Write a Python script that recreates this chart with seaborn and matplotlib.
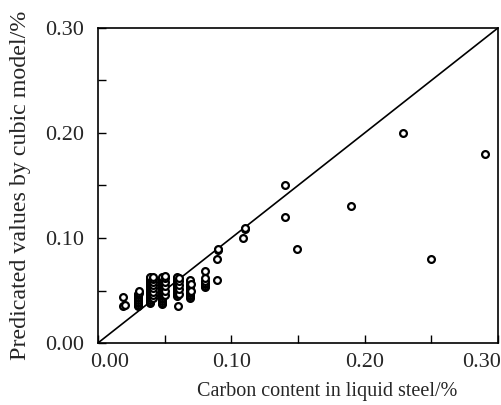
import matplotlib
matplotlib.use("Agg")
import matplotlib.pyplot as plt
import matplotlib.transforms as mtransforms
from matplotlib.ticker import MultipleLocator
import seaborn as sns
import pandas as pd

# Measured carbon content (x) and predicted values (y), in %
carbon_measured = [
    0.019, 0.019, 0.020,
    0.030, 0.030, 0.030, 0.030, 0.030, 0.030, 0.030, 0.030, 0.030, 0.031, 0.031,
    0.039, 0.039, 0.039, 0.039, 0.039, 0.039, 0.039, 0.039, 0.039, 0.039, 0.039, 0.039,
    0.039, 0.039, 0.039, 0.039, 0.039, 0.039,
    0.041, 0.041, 0.041, 0.041, 0.041, 0.041, 0.041, 0.041,
    0.048, 0.048, 0.048, 0.048, 0.048, 0.048, 0.048, 0.048, 0.048, 0.048, 0.048, 0.048,
    0.048, 0.048, 0.048, 0.048, 0.048, 0.048,
    0.050, 0.050, 0.050, 0.050, 0.050, 0.050,
    0.059, 0.059, 0.059, 0.059, 0.059, 0.059, 0.059, 0.059, 0.059, 0.059, 0.059, 0.059,
    0.059, 0.060,
    0.061, 0.061, 0.061, 0.061, 0.061,
    0.069, 0.069, 0.069, 0.069, 0.069, 0.069, 0.069, 0.069, 0.069, 0.069, 0.069, 0.069,
    0.070, 0.070,
    0.080, 0.080, 0.080, 0.080, 0.080, 0.080, 0.080,
    0.089, 0.089, 0.090, 0.090,
    0.109, 0.110, 0.110,
    0.140, 0.140,
    0.149,
    0.190,
    0.229,
    0.250,
    0.290,
]
carbon_predicted = [
    0.044, 0.035, 0.036,
    0.035, 0.0365, 0.038, 0.0395, 0.041, 0.0425, 0.044, 0.0455, 0.047, 0.048, 0.0495,
    0.038, 0.0395, 0.041, 0.0425, 0.044, 0.0455, 0.047, 0.0485, 0.050, 0.0515, 0.053, 0.0545,
    0.056, 0.0575, 0.059, 0.0605, 0.062, 0.063,
    0.043, 0.046, 0.049, 0.052, 0.055, 0.058, 0.061, 0.063,
    0.037, 0.0385, 0.040, 0.0415, 0.043, 0.0445, 0.046, 0.0475, 0.049, 0.0505, 0.052, 0.0535,
    0.055, 0.0565, 0.058, 0.0595, 0.061, 0.063,
    0.046, 0.050, 0.054, 0.058, 0.062, 0.064,
    0.045, 0.0465, 0.048, 0.0495, 0.051, 0.0525, 0.054, 0.0555, 0.057, 0.0585, 0.060, 0.0615,
    0.063, 0.035,
    0.047, 0.051, 0.055, 0.059, 0.062,
    0.043, 0.0445, 0.046, 0.0475, 0.049, 0.0505, 0.052, 0.0535, 0.055, 0.0565, 0.058, 0.060,
    0.050, 0.056,
    0.053, 0.0545, 0.056, 0.0575, 0.059, 0.062, 0.069,
    0.060, 0.080, 0.089, 0.090,
    0.100, 0.109, 0.110,
    0.150, 0.120,
    0.090,
    0.130,
    0.200,
    0.080,
    0.180,
]

x_ticks = [0.00, 0.10, 0.20, 0.30]
y_ticks = [0.00, 0.10, 0.20, 0.30]
x_label = "Carbon content in liquid steel/%"
y_label = "Predicated values by cubic model/%"

df = pd.DataFrame({"measured": carbon_measured, "predicted": carbon_predicted})

sns.set_style("ticks")
plt.rcParams["font.family"] = ["Liberation Serif", "DejaVu Serif"]

fig = plt.figure(figsize=(5.02, 4.05), dpi=100)
ax = fig.add_axes([0.195, 0.153, 0.797, 0.778])

sns.scatterplot(data=df, x="measured", y="predicted", ax=ax,
                marker="o", s=24, facecolor="white", edgecolor="black",
                linewidth=1.6, zorder=3)
ax.axline((0, 0), slope=1, color="black", linewidth=1.2, zorder=2)

ax.set_xlim(0, 0.30)
ax.set_ylim(0, 0.30)
ax.set_xticks(x_ticks)
ax.set_yticks(y_ticks)
ax.set_xticklabels([f"{v:.2f}" for v in x_ticks])
ax.set_yticklabels([f"{v:.2f}" for v in y_ticks])
ax.xaxis.set_minor_locator(MultipleLocator(0.05))
ax.yaxis.set_minor_locator(MultipleLocator(0.05))
ax.tick_params(which="both", direction="in", length=6, width=1.0,
               top=False, right=False, labelsize=16, color="black")
ax.tick_params(axis="x", pad=7)
ax.tick_params(axis="y", pad=10)

for spine in ax.spines.values():
    spine.set_visible(True)
    spine.set_linewidth(1.2)
    spine.set_color("black")

ax.set_xlabel(x_label, fontsize=14.5)
ax.set_ylabel(y_label, fontsize=17.3)
ax.xaxis.set_label_coords(0.574, -0.125)
ax.yaxis.set_label_coords(-0.168, 0.5)

# nudge end tick labels inward as in the original
xl = ax.get_xticklabels()
xl[0].set_transform(xl[0].get_transform() + mtransforms.ScaledTranslation(12/100, 0, fig.dpi_scale_trans))
xl[-1].set_transform(xl[-1].get_transform() + mtransforms.ScaledTranslation(-16/100, 0, fig.dpi_scale_trans))

fig.savefig("out.png", dpi=100)
